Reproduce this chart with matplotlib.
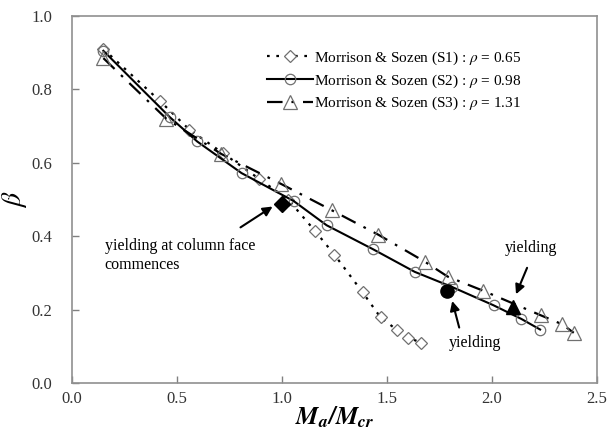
import matplotlib
matplotlib.use('Agg')
import matplotlib.pyplot as plt

plt.rcParams['font.family'] = ['Liberation Serif', 'DejaVu Serif']
plt.rcParams['mathtext.fontset'] = 'stix'

# S1 : rho = 0.65
s1_x = [0.15, 0.42, 0.56, 0.72, 0.89, 1.03, 1.157, 1.25, 1.385, 1.47, 1.55, 1.60, 1.665]
s1_y = [0.91, 0.768, 0.69, 0.626, 0.557, 0.50, 0.415, 0.350, 0.247, 0.179, 0.144, 0.124, 0.110]
# S2 : rho = 0.98
s2_x = [0.15, 0.467, 0.597, 0.808, 1.056, 1.213, 1.433, 1.633, 1.81, 2.008, 2.14, 2.23]
s2_y = [0.905, 0.724, 0.658, 0.572, 0.496, 0.430, 0.365, 0.303, 0.262, 0.212, 0.175, 0.146]
# S3 : rho = 1.31
s3_x = [0.15, 0.45, 0.712, 0.998, 1.237, 1.46, 1.68, 1.79, 1.957, 2.232, 2.336, 2.39]
s3_y = [0.885, 0.72, 0.624, 0.542, 0.471, 0.404, 0.331, 0.290, 0.252, 0.185, 0.160, 0.137]

labels = ['Morrison & Sozen (S1) : $\\rho$ = 0.65',
          'Morrison & Sozen (S2) : $\\rho$ = 0.98',
          'Morrison & Sozen (S3) : $\\rho$ = 1.31']

# yielding points
yield_face = (1.0, 0.488)
yield_s2 = (1.785, 0.252)
yield_s3 = (2.10, 0.207)

fig = plt.figure(figsize=(6.09, 4.30), dpi=100)
ax = fig.add_axes([0.118, 0.109, 0.862, 0.854])

edge = '#707070'
ax.plot(s1_x, s1_y, color='black', lw=1.6, ls=(0, (1.2, 3.0)), marker='D', ms=6,
        mfc='white', mec=edge, mew=0.9, label=labels[0])
ax.plot(s2_x, s2_y, color='black', lw=1.5, ls='-', marker='o', ms=7.5,
        mfc='none', mec=edge, mew=0.9, label=labels[1])
ax.plot(s3_x, s3_y, color='black', lw=1.6, ls=(0, (7, 4, 1.2, 4)), marker='^', ms=9.5,
        mfc='none', mec=edge, mew=0.9, label=labels[2])

ax.plot(*yield_face, marker='D', ms=8.5, color='black', ls='none')
ax.plot(*yield_s2, marker='o', ms=9.5, color='black', ls='none')
ax.plot(*yield_s3, marker='^', ms=10.5, color='black', ls='none')

arrow = dict(arrowstyle='-|>', color='black', lw=1.5, mutation_scale=14)
ax.annotate('', xy=(0.967, 0.485), xytext=(0.792, 0.420), arrowprops=arrow)
ax.text(0.157, 0.373, 'yielding at column face', fontsize=11.5, va='center', ha='left')
ax.text(0.157, 0.322, 'commences', fontsize=11.5, va='center', ha='left')

ax.annotate('', xy=(1.808, 0.231), xytext=(1.848, 0.144), arrowprops=arrow)
ax.text(1.919, 0.108, 'yielding', fontsize=11.5, va='center', ha='center')

ax.annotate('', xy=(2.110, 0.235), xytext=(2.173, 0.321), arrowprops=arrow)
ax.text(2.186, 0.367, 'yielding', fontsize=11.5, va='center', ha='center')

ax.set_xlim(0, 2.5)
ax.set_ylim(0, 1.0)
ax.set_xticks([0.0, 0.5, 1.0, 1.5, 2.0, 2.5])
ax.set_yticks([0.0, 0.2, 0.4, 0.6, 0.8, 1.0])
ax.set_xticklabels(['0.0', '0.5', '1.0', '1.5', '2.0', '2.5'])
ax.set_yticklabels(['0.0', '0.2', '0.4', '0.6', '0.8', '1.0'])
ax.tick_params(direction='in', length=5, width=1, color='#808080',
               labelsize=12, labelcolor='#333333')
ax.tick_params(axis='x', pad=6)
ax.tick_params(axis='y', pad=14)
for sp in ax.spines.values():
    sp.set_color('#909090')
    sp.set_linewidth(1.2)

ax.set_ylabel('$\\beta$', fontsize=20, labelpad=2)
ax.set_xlabel('$\\mathbfit{M_a/M_{cr}}$', fontsize=18, labelpad=-2)

leg = ax.legend(loc='upper left', bbox_to_anchor=(0.36, 0.925), frameon=False,
                fontsize=11, handlelength=3.0, handletextpad=0.1,
                labelspacing=0.35, borderaxespad=0)

fig.savefig('out.png', dpi=100)
